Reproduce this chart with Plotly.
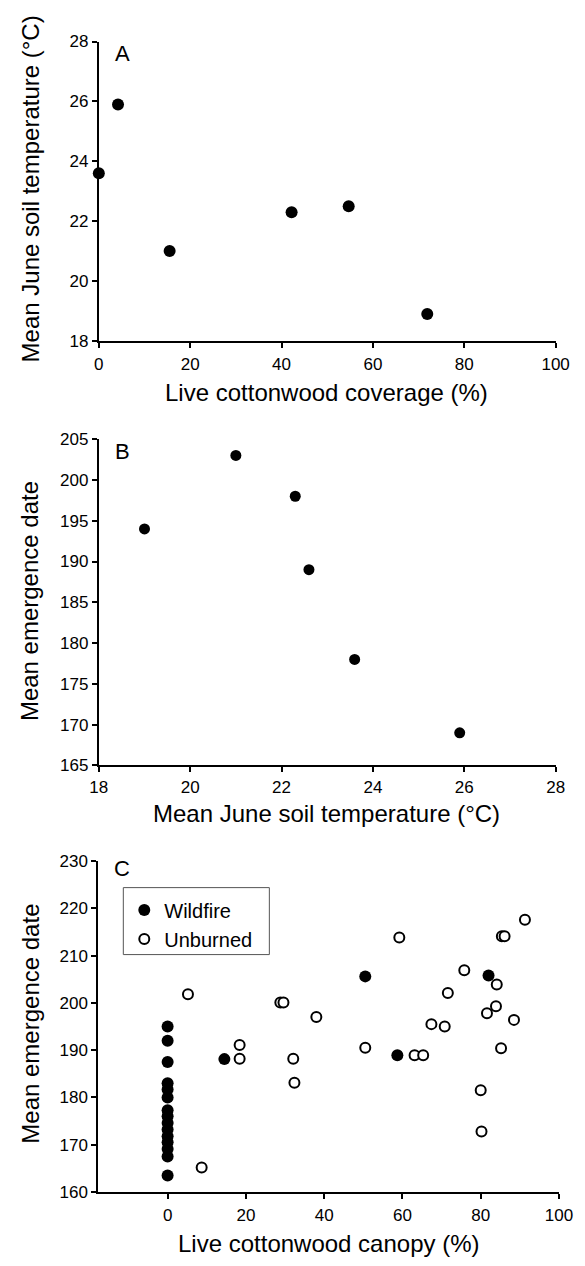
import plotly.graph_objects as go

# ---------------- data ----------------
# Panel A: live cottonwood coverage (%) vs mean June soil temperature (°C)
a_cover = [0, 4.2, 15.5, 42.2, 54.7, 71.9]
a_temp = [23.6, 25.9, 21.0, 22.3, 22.5, 18.9]

# Panel B: mean June soil temperature (°C) vs mean emergence date
b_temp = [19.0, 21.0, 22.3, 22.6, 23.6, 25.9]
b_date = [194, 203, 198, 189, 178, 169]

# Panel C: live cottonwood canopy (%) vs mean emergence date
c_wild_canopy = [0, 0, 0, 0, 0, 0, 0, 0, 0, 0, 0, 0, 0, 0, 0,
                 14.5, 50.5, 58.7, 82.0]
c_wild_date = [195, 192, 187.5, 183, 181.7, 180, 177.3, 176, 174.6, 173.2,
               171.8, 170.5, 169.1, 167.5, 163.5,
               188.1, 205.6, 188.9, 205.8]
c_unb_canopy = [5.2, 8.7, 18.4, 18.4, 28.8, 29.6, 32.1, 32.4, 38.0, 50.5,
                59.2, 75.8, 84.1, 71.6, 83.9, 81.6, 88.5, 67.4, 70.8, 85.2,
                63.1, 65.3, 80.0, 80.2, 91.3, 85.4, 86.1]
c_unb_date = [201.8, 165.2, 191.1, 188.2, 200.1, 200.1, 188.2, 183.1, 197.0, 190.5,
              213.8, 206.9, 203.9, 202.1, 199.3, 197.8, 196.4, 195.5, 195.0, 190.4,
              188.9, 188.9, 181.5, 172.8, 217.6, 214.1, 214.1]

a_xticks = [0, 20, 40, 60, 80, 100]
a_yticks = [18, 20, 22, 24, 26, 28]
b_xticks = [18, 20, 22, 24, 26, 28]
b_yticks = [165, 170, 175, 180, 185, 190, 195, 200, 205]
c_xticks = [0, 20, 40, 60, 80, 100]
c_yticks = [160, 170, 180, 190, 200, 210, 220, 230]

# ---------------- figure ----------------
W, H = 585, 1266
FONT = "Liberation Sans, Arial, Helvetica, sans-serif"


def px(x):
    return x / W


def py(y):
    return 1 - y / H


fig = go.Figure()

fig.add_trace(go.Scatter(x=a_cover, y=a_temp, mode="markers", xaxis="x", yaxis="y",
                         marker=dict(size=12, color="black"), showlegend=False,
                         cliponaxis=False))
fig.add_trace(go.Scatter(x=b_temp, y=b_date, mode="markers", xaxis="x2", yaxis="y2",
                         marker=dict(size=11, color="black"), showlegend=False,
                         cliponaxis=False))
fig.add_trace(go.Scatter(x=c_wild_canopy, y=c_wild_date, mode="markers", xaxis="x3", yaxis="y3",
                         name="Wildfire", marker=dict(size=12, color="black"),
                         cliponaxis=False))
fig.add_trace(go.Scatter(x=c_unb_canopy, y=c_unb_date, mode="markers", xaxis="x3", yaxis="y3",
                         name="Unburned",
                         marker=dict(size=10, color="white", line=dict(color="black", width=2)),
                         cliponaxis=False))

axis_common = dict(showline=True, linecolor="black", linewidth=2, ticks="outside",
                   ticklen=5, tickwidth=1.5, tickcolor="black", showgrid=False,
                   zeroline=False, mirror=False,
                   tickfont=dict(family=FONT, size=17, color="black"))

fig.update_layout(
    width=W, height=H,
    margin=dict(l=0, r=0, t=0, b=0),
    paper_bgcolor="white", plot_bgcolor="white",
    font=dict(family=FONT, color="black"),
    xaxis=dict(domain=[px(93.5), px(569)], anchor="y", range=[0, 100],
               tickvals=a_xticks, ticklabelstandoff=2, **axis_common),
    yaxis=dict(domain=[py(337), py(33)], anchor="x", range=[18, 28],
               tickvals=a_yticks, **axis_common),
    xaxis2=dict(domain=[px(93.5), px(569)], anchor="y2", range=[18, 28],
                tickvals=b_xticks, ticklabelstandoff=0, **axis_common),
    yaxis2=dict(domain=[py(768), py(436.7)], anchor="x2", range=[165, 205],
                tickvals=b_yticks, **axis_common),
    xaxis3=dict(domain=[px(93), px(572.5)], anchor="y3", range=[-17.7, 100],
                tickvals=c_xticks, ticklabelstandoff=2, **axis_common),
    yaxis3=dict(domain=[py(1201), py(865)], anchor="x3", range=[160, 230],
                tickvals=c_yticks, **axis_common),
    legend=dict(x=px(120), y=py(895), xanchor="left", yanchor="top",
                bgcolor="rgba(0,0,0,0)", borderwidth=0,
                font=dict(family=FONT, size=20, color="black"),
                tracegroupgap=0),
    shapes=[dict(type="rect", xref="paper", yref="paper",
                 x0=px(119), x1=px(271), y0=py(960), y1=py(892),
                 line=dict(color="#555555", width=1), fillcolor="rgba(0,0,0,0)")],
)

TITLE = 24
ann = []
# panel letters
for letter, yy in [("A", 45), ("B", 449), ("C", 873)]:
    ann.append(dict(text=letter, x=px(118), y=py(yy), xref="paper", yref="paper",
                    showarrow=False, xanchor="center", yanchor="middle",
                    font=dict(family=FONT, size=22, color="black")))
# x-axis titles
for t, xx, yy in [("Live cottonwood coverage (%)", 331, 389),
                  ("Mean June soil temperature (°C)", 331, 817),
                  ("Live cottonwood canopy (%)", 333, 1253)]:
    ann.append(dict(text=t, x=px(xx), y=py(yy), xref="paper", yref="paper",
                    showarrow=False, xanchor="center", yanchor="middle",
                    font=dict(family=FONT, size=TITLE, color="black")))
# y-axis titles
for t, yy in [("Mean June soil temperature (°C)", 183),
              ("Mean emergence date", 601),
              ("Mean emergence date", 1030)]:
    ann.append(dict(text=t, x=px(22), y=py(yy), xref="paper", yref="paper",
                    showarrow=False, xanchor="center", yanchor="middle", textangle=-90,
                    font=dict(family=FONT, size=TITLE, color="black")))
fig.update_layout(annotations=ann)

fig.write_html("out.html")
